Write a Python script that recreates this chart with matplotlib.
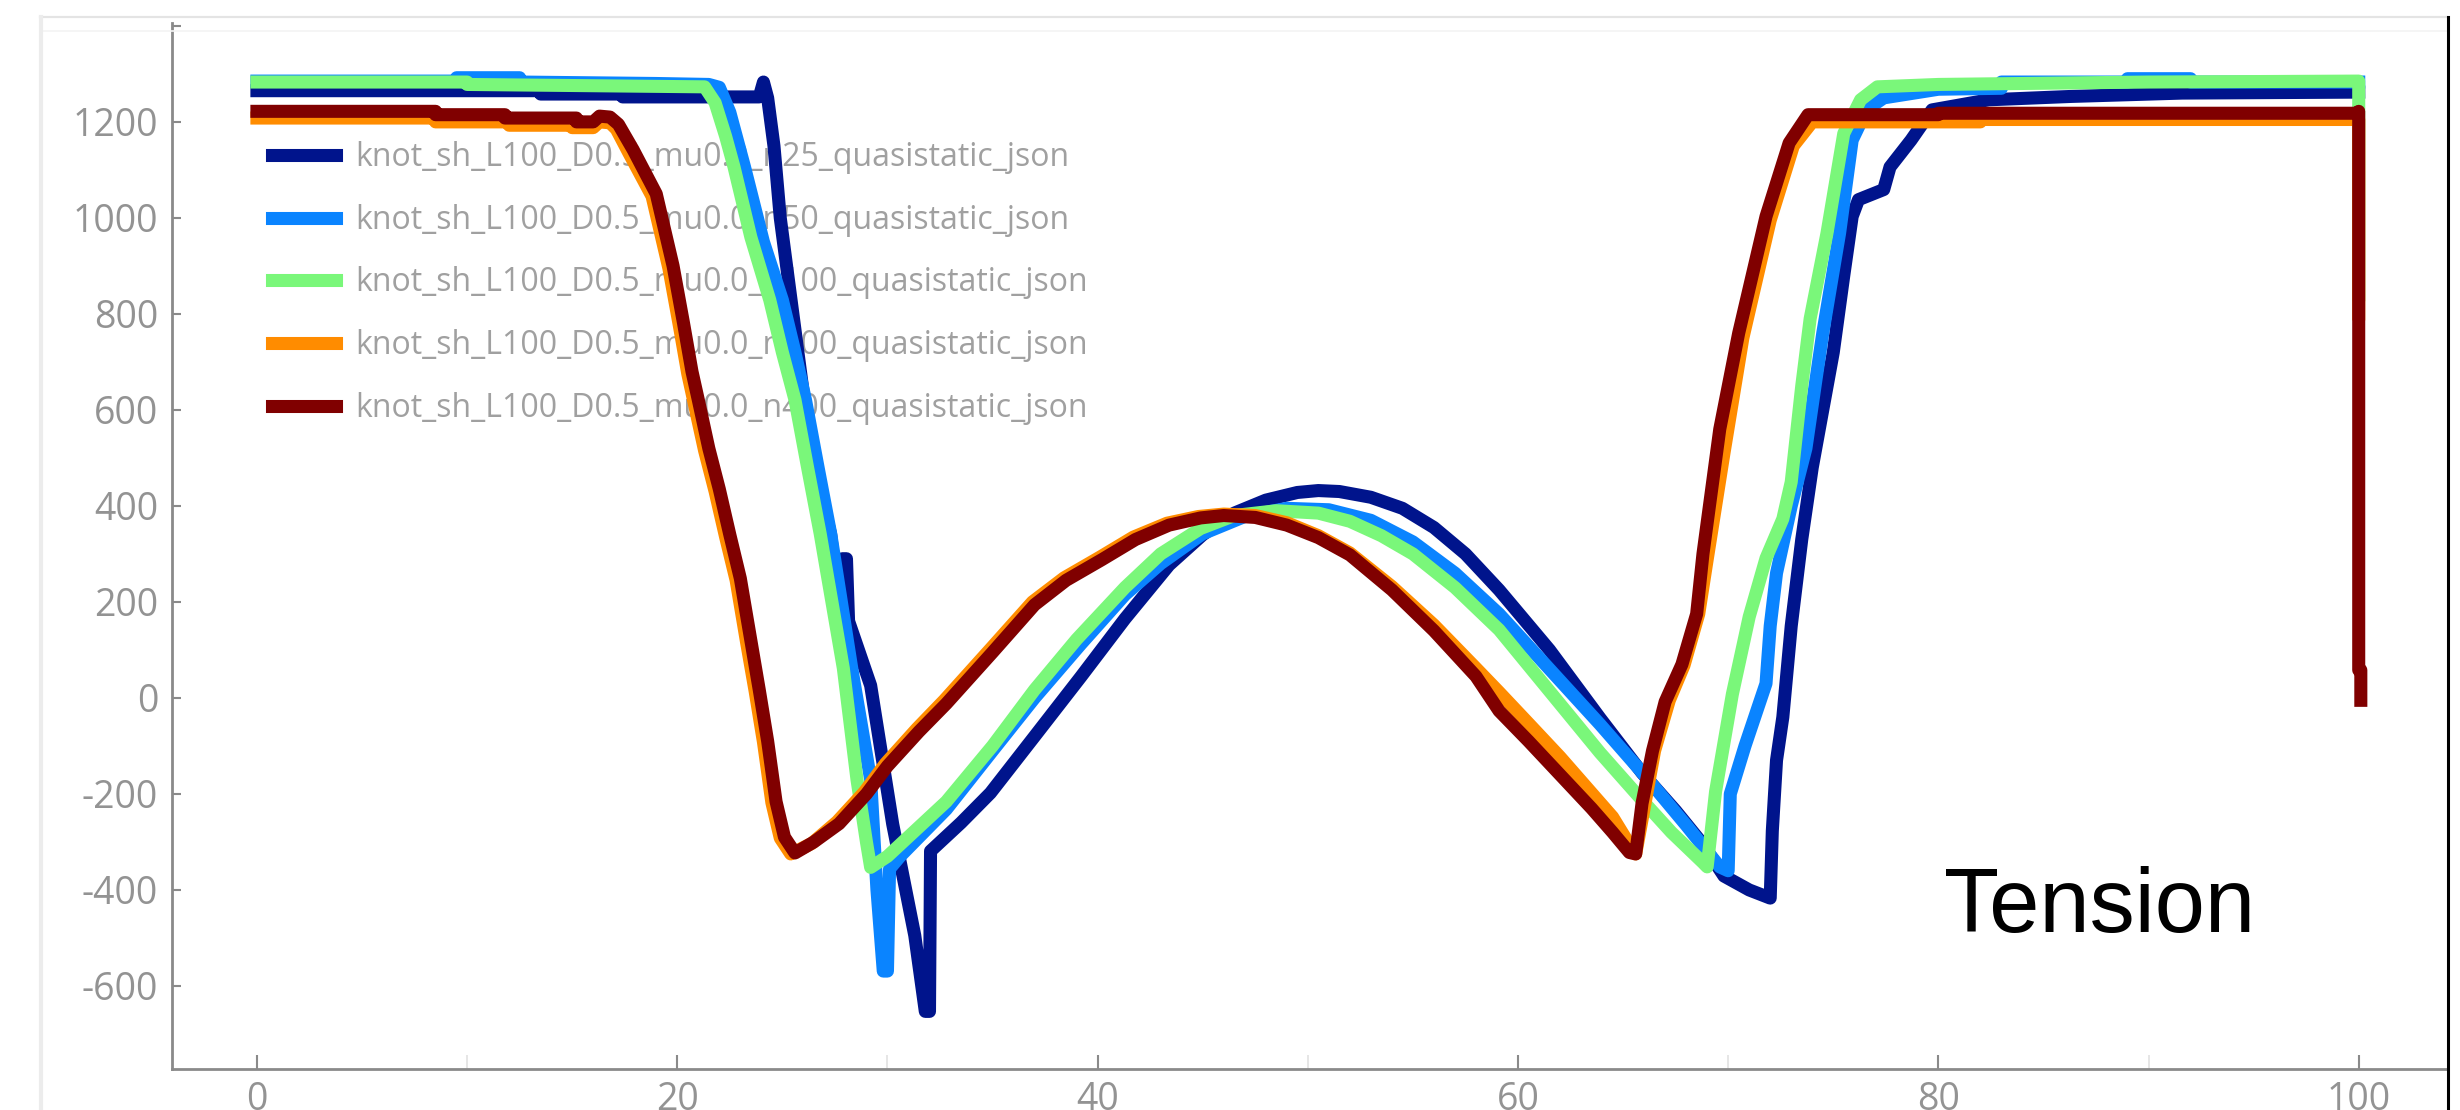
import matplotlib
matplotlib.use("Agg")
import matplotlib.pyplot as plt
from matplotlib.lines import Line2D

# ---------------- data ----------------
labels = [
    "knot_sh_L100_D0.5_mu0.0_n25_quasistatic_json",
    "knot_sh_L100_D0.5_mu0.0_n50_quasistatic_json",
    "knot_sh_L100_D0.5_mu0.0_n100_quasistatic_json",
    "knot_sh_L100_D0.5_mu0.0_n200_quasistatic_json",
    "knot_sh_L100_D0.5_mu0.0_n400_quasistatic_json",
]
colors = ["#00148c", "#0a84ff", "#7af77a", "#ff8c00", "#800000"]

x_n25 = [0, 13.5, 13.5, 17.4, 17.4, 23.9, 24.1, 24.3, 24.6, 24.9, 25.5, 26.1, 26.7, 27.3,
         27.75, 27.85, 28.05, 28.15, 29.2, 30.25, 31.3, 31.8, 32.0, 32.05, 33.5, 34.9, 37.0,
         39.2, 41.3, 43.4, 45.0, 46.5, 48.0, 49.5, 50.5, 51.5, 53.0, 54.5, 56.0, 57.5, 59.1,
         61.5, 63.9, 65.9, 67.5, 68.8, 69.8, 71.0, 72.0, 72.1, 72.3, 72.6, 73.0, 73.5, 74.0,
         74.5, 75.0, 75.5, 75.9, 76.2, 77.4, 77.7, 78.7, 79.7, 82.4, 86.3, 91.6, 100.0]
y_n25 = [1265, 1265, 1258, 1258, 1252, 1252, 1283, 1250, 1150, 1000, 800, 600, 450, 340,
         170, 290, 290, 160, 26, -263, -495, -653, -653, -319, -260, -198, -80,
         44, 165, 277, 340, 385, 412, 428, 432, 430, 418, 395, 355, 300, 225,
         100, -42, -156, -235, -305, -371, -400, -417, -277, -130, -40, 150, 330, 480,
         600, 720, 880, 1003, 1038, 1059, 1106, 1162, 1225, 1246, 1253, 1260, 1262]

x_n50 = [0, 9.5, 9.5, 12.5, 12.5, 19, 21.5, 22.0, 22.5, 23.2, 24.1, 25.0, 25.6, 26.1, 26.7,
         27.3, 28.3, 29.2, 29.5, 29.8, 30.0, 30.1, 30.6, 32.8, 35.0, 37.0, 39.2, 41.3, 43.0,
         45.0, 47.0, 49.0, 51.0, 53.0, 55.0, 57.0, 59.1, 61.5, 63.9, 66.0, 68.0, 69.6, 70.0,
         70.1, 70.8, 71.8, 72.0, 72.3, 73.0, 73.7, 74.5, 75.3, 75.9, 76.6, 77.4, 80, 83, 83,
         89, 89, 92, 92, 100]
y_n50 = [1285, 1285, 1292, 1292, 1283, 1280, 1278, 1272, 1220, 1106, 950, 829, 720, 621, 480,
         342, 62, -170, -400, -569, -569, -356, -330, -232, -110, 0, 112, 215, 280,
         342, 378, 395, 392, 370, 325, 260, 175, 60, -55, -160, -265, -352, -360,
         -200, -100, 30, 150, 260, 400, 520, 760, 968, 1162, 1226, 1250, 1268, 1270, 1283,
         1283, 1290, 1290, 1283, 1283]

x_n100 = [0, 10, 10, 21.3, 21.8, 22.3, 22.7, 23.5, 24.4, 25.0, 25.6, 26.2, 26.8, 27.9, 28.55,
          29.0, 29.2, 30.0, 32.8, 35.0, 37.0, 39.0, 41.3, 43.0, 44.9, 46.5, 48.5, 50.5, 52.0,
          53.5, 55.0, 57.0, 59.1, 61.5, 63.9, 65.7, 67.3, 68.8, 69.0, 69.4, 70.2, 71.0, 71.8,
          72.6, 73.0, 73.5, 73.9, 74.7, 75.5, 76.3, 77.1, 80, 90, 100, 100]
y_n100 = [1283, 1283, 1278, 1273, 1240, 1170, 1106, 960, 829, 720, 621, 480, 342, 62, -170,
          -300, -353, -330, -216, -100, 17, 122, 230, 300, 353, 380, 390, 385, 368,
          338, 300, 230, 142, 14, -114, -203, -280, -343, -352, -195, 8, 169, 291,
          373, 450, 650, 790, 968, 1176, 1246, 1273, 1278, 1283, 1285, 840]

x_n200 = [0, 8.5, 8.5, 12.0, 12.0, 15.0, 15.0, 16.0, 16.3, 16.8, 17.1, 17.7, 18.8, 19.6, 20.1,
          20.5, 20.8, 21.3, 21.8, 22.3, 22.8, 23.3, 23.7, 24.1, 24.5, 24.9, 25.4, 26.4, 27.6,
          28.9, 29.9, 31.4, 32.7, 34.9, 36.9, 38.4, 40.1, 41.7, 43.3, 44.8, 46.0, 47.5, 49.0,
          50.5, 52.0, 54.0, 56.0, 58.0, 59.1, 60.5, 62.0, 63.5, 64.5, 65.2, 65.6, 66.0, 66.5,
          67.2, 67.9, 68.6, 69.0, 69.8, 70.7, 72.0, 73.1, 74.0, 82, 82, 100, 100]
y_n200 = [1208, 1208, 1200, 1200, 1193, 1193, 1188, 1188, 1200, 1198, 1185, 1135, 1045, 895, 775,
          675, 615, 515, 430, 335, 245, 115, 15, -92, -218, -292, -325, -303, -258,
          -196, -137, -64, -5, 102, 200, 250, 293, 335, 364, 378, 383, 380, 365,
          338, 302, 232, 152, 62, 12, -53, -123, -198, -248, -298, -325, -230, -110,
          -5, 68, 175, 288, 510, 750, 995, 1150, 1200, 1200, 1205, 1205, 800]

x_n400 = [0, 8.5, 8.5, 11.8, 11.8, 15.2, 15.2, 16.0, 16.3, 16.8, 17.2, 17.9, 19.0, 19.8, 20.3,
          20.7, 21.0, 21.5, 22.0, 22.5, 23.0, 23.5, 23.9, 24.3, 24.7, 25.1, 25.6, 26.5, 27.7,
          29.0, 30.0, 31.5, 32.8, 35.0, 37.0, 38.5, 40.2, 41.8, 43.4, 44.9, 46.0, 47.5, 49.0,
          50.5, 52.0, 54.0, 56.0, 58.0, 59.1, 60.5, 62.0, 63.5, 64.5, 65.3, 65.6, 65.9, 66.4,
          67.0, 67.8, 68.5, 68.8, 69.6, 70.5, 71.8, 72.9, 73.8, 80, 80, 99.9, 100, 100, 100.1, 100.1]
y_n400 = [1222, 1222, 1215, 1215, 1208, 1208, 1200, 1200, 1212, 1210, 1195, 1142, 1050, 900, 780,
          680, 621, 520, 435, 340, 249, 120, 17, -90, -216, -290, -323, -300, -262,
          -200, -142, -70, -12, 95, 194, 245, 288, 330, 360, 375, 380, 376, 360,
          334, 298, 225, 140, 45, -27, -90, -160, -230, -280, -322, -325, -220, -110,
          -8, 70, 175, 300, 560, 760, 1003, 1156, 1215, 1215, 1218, 1218, 1222, 58, 58, -5]

series_x = [x_n25, x_n50, x_n100, x_n200, x_n400]
series_y = [y_n25, y_n50, y_n100, y_n200, y_n400]

x_ticks = [0, 20, 40, 60, 80, 100]
x_minor = [10, 30, 50, 70, 90]
y_ticks = [-600, -400, -200, 0, 200, 400, 600, 800, 1000, 1200, 1400]
y_ticklabels = ["-600", "-400", "-200", "0", "200", "400", "600", "800", "1000", "1200", ""]
annotation = "Tension"

# ---------------- figure ----------------
W, H = 2460, 1110
fig = plt.figure(figsize=(W / 100, H / 100), dpi=100)
fig.patch.set_facecolor("white")

L, R, T, B = 172, 2447, 23, 1069
ax = fig.add_axes([L / W, 1 - B / H, (R - L) / W, (B - T) / H])
ax.set_xlim(-4.04, 104.2)
ax.set_ylim(-773, 1406)

lw = 9.4
for xs, ys, c, lab in zip(series_x, series_y, colors, labels):
    ax.plot(xs, ys, color=c, lw=lw, label=lab, solid_joinstyle="round", zorder=3)

tick_gray = "#8a8a8a"
label_gray = "#939393"
for s in ["top", "right"]:
    ax.spines[s].set_visible(False)
for s in ["left", "bottom"]:
    ax.spines[s].set_color(tick_gray)
    ax.spines[s].set_linewidth(2.0)

ax.set_xticks(x_ticks)
ax.set_xticks(x_minor, minor=True)
ax.set_yticks(y_ticks)
ax.set_yticklabels(y_ticklabels)
ax.tick_params(axis="x", which="major", direction="in", length=10, width=1.5,
               color=tick_gray, pad=9, labelsize=27, labelcolor=label_gray)
ax.tick_params(axis="x", which="minor", direction="in", length=10, width=1.2,
               color="#e2e2e2")
ax.tick_params(axis="y", which="major", direction="in", length=6.5, width=1.5,
               color=tick_gray, pad=10, labelsize=27, labelcolor=label_gray)
for lbl in ax.get_xticklabels() + ax.get_yticklabels():
    lbl.set_fontfamily(["Open Sans", "DejaVu Sans"])

leg = ax.legend(loc="upper left", bbox_to_anchor=(272 / W, 1 - 141 / H),
                bbox_transform=fig.transFigure, frameon=False, borderpad=0,
                borderaxespad=0, handlelength=2.0, handletextpad=0.6,
                labelspacing=0.93, prop={"family": ["Open Sans", "DejaVu Sans"], "size": 23})
for t in leg.get_texts():
    t.set_color("#a0a0a0")
leg.set_zorder(1)

fig.text(1944 / W, 1 - 932 / H, annotation, fontsize=65,
         family=["Liberation Sans", "DejaVu Sans"], color="black",
         ha="left", va="baseline")

# outer frame of the screenshot
fig.add_artist(Line2D([40 / W, 2447 / W], [1 - 17 / H, 1 - 17 / H],
                      transform=fig.transFigure, color="#e4e4e4", lw=1.6))
fig.add_artist(Line2D([40 / W, 2447 / W], [1 - 31 / H, 1 - 31 / H],
                      transform=fig.transFigure, color="#f4f4f4", lw=1.2))
fig.add_artist(Line2D([41 / W, 41 / W], [0, 1 - 17 / H],
                      transform=fig.transFigure, color="#ececec", lw=3))
fig.add_artist(Line2D([2448 / W, 2448 / W], [0, 1 - 17 / H],
                      transform=fig.transFigure, color="black", lw=2.2))

fig.savefig("out.png", dpi=100)
